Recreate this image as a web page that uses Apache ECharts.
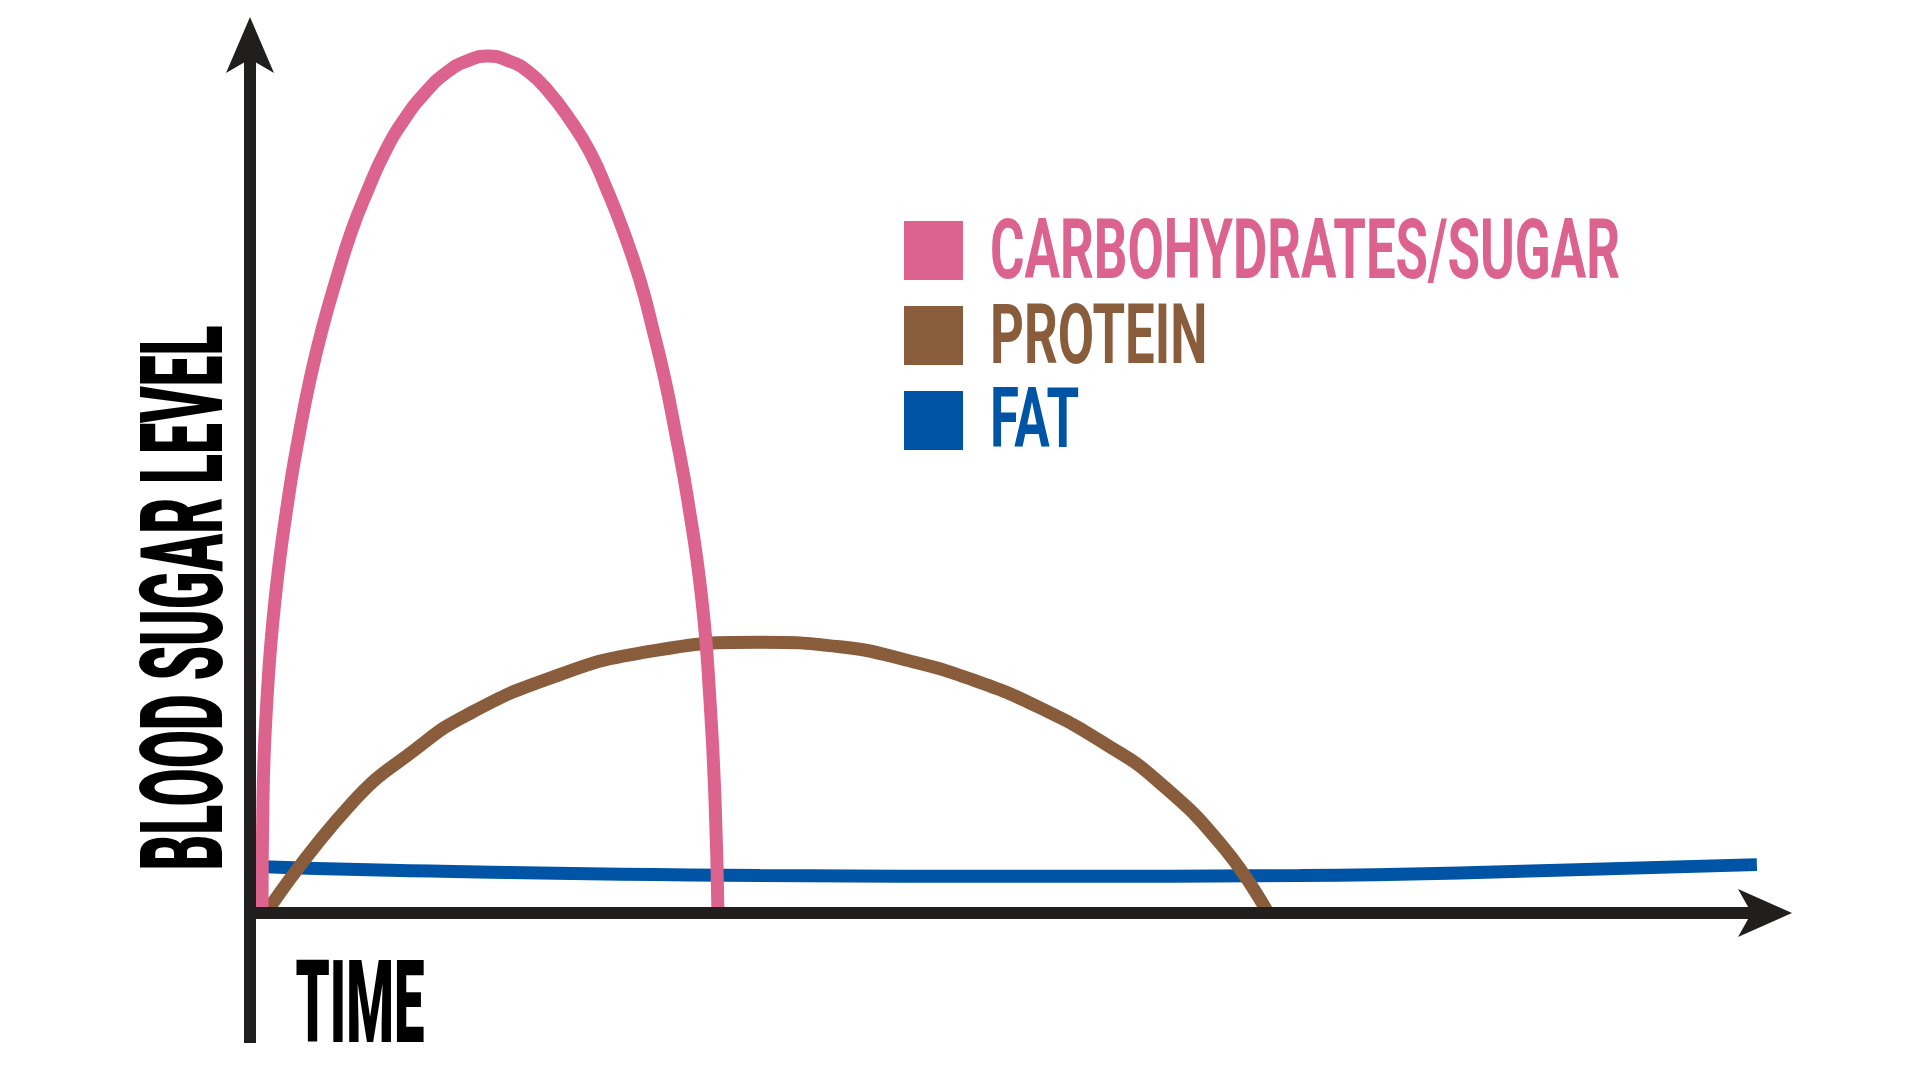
<!DOCTYPE html>
<html>
<head>
<meta charset="utf-8">
<title>Blood sugar level over time</title>
<script src="https://cdn.jsdelivr.net/npm/echarts@6/dist/echarts.min.js"></script>
<style>
  html, body { margin: 0; padding: 0; background: #ffffff; }
  #chart { width: 1920px; height: 1080px; }
</style>
</head>
<body>
<div id="chart"></div>
<script>
// curves: time (0..100) and blood sugar level (0..100)
const seriesNames = ['CARBOHYDRATES/SUGAR', 'PROTEIN', 'FAT'];
const seriesColors = ['#dc638d', '#895d3b', '#0054a6'];

const carbsTime  = [0.78, 0.84, 1.1, 1.62, 2.46, 3.24, 3.89, 4.67, 5.58, 6.61, 7.65, 8.75, 9.99, 11.35, 12.84, 14.14,
                    15.43,
                    16.73, 18.03, 19.39, 20.75, 22.05, 23.15, 24.19, 25.29, 26.13, 26.91, 27.56, 28.4, 29.31, 29.83, 30.16, 30.35];
const carbsLevel = [0, 12.6, 23.8, 34.9, 46.0, 53.9, 59.5, 65.1, 70.6, 76.2, 80.7, 84.9, 88.5, 91.5, 93.9, 95.1,
                    95.6,
                    95.1, 93.9, 91.6, 88.5, 84.9, 80.7, 76.2, 70.6, 65.1, 59.5, 53.9, 46.0, 34.9, 23.8, 12.6, 0];

const proteinTime  = [1.04, 6.49, 10.83, 14.07, 19.46, 25.29, 33.07,
                      38.26, 42.61, 46.89, 51.23, 55.58, 58.82, 63.1, 66.02];
const proteinLevel = [0, 12.05, 18.4, 22.1, 26.2, 29.0, 30.2,
                      29.7, 28.2, 26.0, 22.9, 18.75, 14.8, 7.4, 0];

const fatTime  = [0.39, 9.73, 33.07, 51.23, 68.09, 78.99, 97.73];
const fatLevel = [5.2, 4.75, 4.2, 4.1, 4.2, 4.5, 5.4];

const yTitle = 'BLOOD SUGAR LEVEL';
const xTitle = 'TIME';

function pairs(xs, ys) {
  return xs.map((x, i) => [x, ys[i]]);
}

// no condensed font is installed, so wide type is squeezed to the poster look
const family = 'Roboto, "Liberation Sans", Arial, sans-serif';
const titleFont = '900 115px ' + family;
const legendFont = 'bold 84px ' + family;
function fitScale(text, font, width) {
  const ctx = document.createElement('canvas').getContext('2d');
  ctx.font = font;
  return width / ctx.measureText(text).width;
}
const legendScale = fitScale(seriesNames[0], legendFont, 630);
const legendRows = [251, 336, 420];

const chart = echarts.init(document.getElementById('chart'));
const axisColor = '#211f1d';
const lineWidth = 13;

const curves = [
  pairs(carbsTime, carbsLevel),
  pairs(proteinTime, proteinLevel),
  pairs(fatTime, fatLevel)
];

const option = {
  backgroundColor: '#ffffff',
  animation: false,
  grid: { left: 250, right: 142, top: 31, bottom: 37, containLabel: false },
  xAxis: {
    type: 'value',
    min: 0,
    max: 99.1,
    z: 10,
    axisLine: {
      onZero: true,
      symbol: ['none', 'arrow'],
      symbolSize: [36, 54],
      symbolOffset: [0, 14],
      lineStyle: { color: axisColor, width: 12, cap: 'butt' }
    },
    axisTick: { show: false },
    axisLabel: { show: false },
    splitLine: { show: false }
  },
  yAxis: {
    type: 'value',
    min: -14.5,
    max: 98.4,
    z: 10,
    axisLine: {
      show: true,
      onZero: false,
      symbol: ['none', 'arrow'],
      symbolSize: [36, 56],
      symbolOffset: [0, 14],
      lineStyle: { color: axisColor, width: 12, cap: 'butt' }
    },
    axisTick: { show: false },
    axisLabel: { show: false },
    splitLine: { show: false }
  },
  legend: {
    orient: 'vertical',
    left: 904,
    top: 221,
    padding: 0,
    itemWidth: 59,
    itemHeight: 59,
    itemGap: 26,
    selectedMode: false,
    formatter: () => '',
    data: seriesNames.map((name) => ({ name: name, icon: 'rect' }))
  },
  graphic: [
    {
      type: 'text',
      x: 193,
      y: 598,
      rotation: Math.PI / 2,
      scaleX: fitScale(yTitle, titleFont, 545),
      style: {
        text: yTitle,
        font: titleFont,
        fill: '#000000',
        align: 'center',
        verticalAlign: 'middle'
      }
    },
    {
      type: 'text',
      x: 360,
      y: 1013,
      scaleX: fitScale(xTitle, titleFont, 129),
      style: {
        text: xTitle,
        font: titleFont,
        fill: '#000000',
        align: 'center',
        verticalAlign: 'middle'
      }
    }
  ].concat(seriesNames.map((name, i) => ({
    // legend labels, drawn beside the legend swatches
    type: 'text',
    x: 990,
    y: legendRows[i] + 6,
    scaleX: legendScale,
    style: {
      text: name,
      font: legendFont,
      fill: seriesColors[i],
      align: 'left',
      verticalAlign: 'middle'
    }
  }))),
  series: curves.map((data, i) => ({
    name: seriesNames[i],
    type: 'line',
    data: data,
    smooth: 0.5,
    showSymbol: false,
    symbol: 'none',
    z: 4 - i,
    color: seriesColors[i],
    lineStyle: { color: seriesColors[i], width: lineWidth, cap: 'butt' },
    itemStyle: { color: seriesColors[i] }
  }))
};

chart.setOption(option);
</script>
</body>
</html>
